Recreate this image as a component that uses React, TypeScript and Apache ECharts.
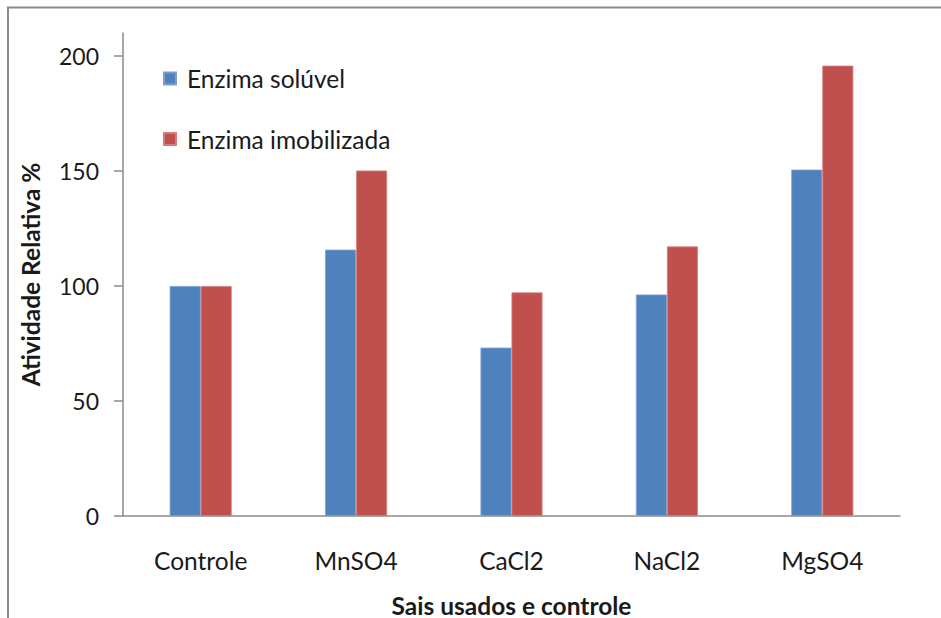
import React, { useEffect, useRef } from "react";
import * as echarts from "echarts";

const categories = ["Controle", "MnSO4", "CaCl2", "NaCl2", "MgSO4"];
const seriesNames = ["Enzima solúvel", "Enzima imobilizada"];
const soluvel = [100, 115.8, 73.2, 96.3, 150.6];
const imobilizada = [100, 150.2, 97.2, 117.2, 195.8];
const yTicks = [0, 50, 100, 150, 200];

const FONT = "Lato";
const FS = 24.5;

export default function App() {
  const ref = useRef<HTMLDivElement>(null);
  useEffect(() => {
    if (!ref.current) return;
    const chart = echarts.init(ref.current, undefined, { renderer: "svg" });
    chart.setOption({
      animation: false,
      backgroundColor: "#ffffff",
      textStyle: { fontFamily: FONT },
      graphic: [
        {
          type: "rect",
          shape: { x: 8, y: 7.5, width: 940, height: 620 },
          style: { fill: "none", stroke: "#8a8a8a", lineWidth: 2 },
          silent: true,
        },
      ],
      legend: {
        orient: "vertical",
        left: 158,
        top: 61,
        itemWidth: 12,
        itemHeight: 12,
        itemGap: 35.5,
        icon: "rect",
        textStyle: { fontFamily: FONT, fontSize: FS, color: "#1a1a1a", padding: [0, 0, 0, 6] },
        data: seriesNames,
      },
      grid: {
        left: 123,
        width: 777,
        top: 33,
        height: 483,
        containLabel: false,
        outerBoundsMode: "none",
      },
      xAxis: {
        type: "category",
        data: categories,
        axisLine: { lineStyle: { color: "#8a8a8a", width: 1.5 } },
        axisTick: { show: false },
        axisLabel: { fontFamily: FONT, fontSize: FS, color: "#1a1a1a", margin: 32 },
        name: "Sais usados e controle",
        nameLocation: "middle",
        nameGap: 77,
        nameTextStyle: { fontFamily: FONT, fontSize: FS, lineHeight: 24, fontWeight: "bold", color: "#1a1a1a" },
      },
      yAxis: {
        type: "value",
        min: 0,
        max: 210,
        interval: 50,
        splitLine: { show: false },
        axisLine: { show: true, lineStyle: { color: "#8a8a8a", width: 1.5 } },
        axisTick: { show: true, length: 9, customValues: yTicks, lineStyle: { color: "#8a8a8a", width: 1.5 } },
        axisLabel: { fontFamily: FONT, fontSize: 23, color: "#1a1a1a", margin: 24, customValues: yTicks },
        name: "Atividade Relativa %",
        nameLocation: "middle",
        nameGap: 80,
        nameRotate: 90,
        nameTextStyle: { fontFamily: FONT, fontSize: FS, fontWeight: "bold", color: "#1a1a1a" },
      },
      series: [
        {
          name: seriesNames[0],
          type: "bar",
          data: soluvel,
          barWidth: 31,
          barGap: "0%",
          itemStyle: { color: "#4F81BD", borderColor: "#7a9fd0", borderWidth: 0.8 },
        },
        {
          name: seriesNames[1],
          type: "bar",
          data: imobilizada,
          barWidth: 31,
          barGap: "0%",
          itemStyle: { color: "#C0504D", borderColor: "#d47d7a", borderWidth: 0.8 },
        },
      ],
    });
    return () => chart.dispose();
  }, []);
  return (
    <div
      ref={ref}
      style={{ position: "fixed", left: 0, top: 0, width: 941, height: 618 }}
    />
  );
}
